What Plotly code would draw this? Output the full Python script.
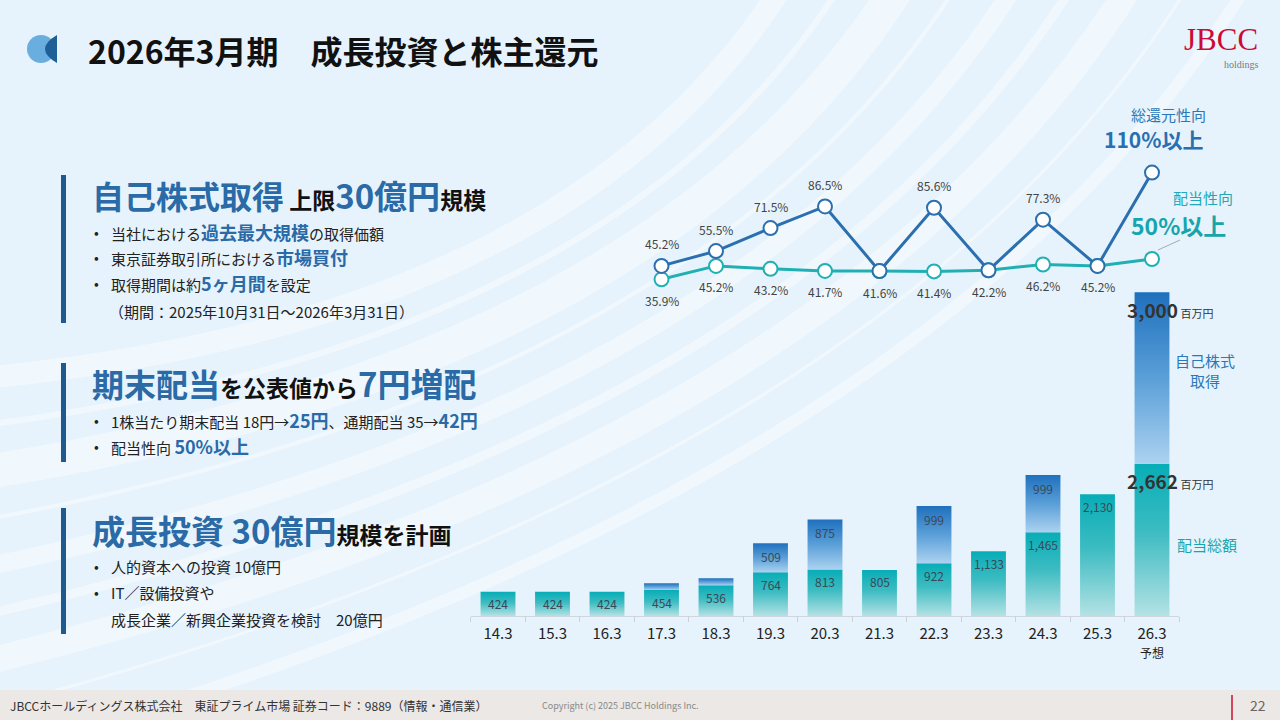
import plotly.graph_objects as go

# Shareholder return data (million yen) by fiscal period
periods = ["14.3", "15.3", "16.3", "17.3", "18.3", "19.3", "20.3",
           "21.3", "22.3", "23.3", "24.3", "25.3", "26.3"]
dividends = [424, 424, 424, 454, 536, 764, 813, 805, 922, 1133, 1465, 2130, 2662]
buybacks = [0, 0, 0, 118, 122, 509, 875, 0, 999, 0, 999, 0, 3000]

# Ratios (%) start from 17.3
ratio_start = 3
total_ratio = [45.2, 55.5, 71.5, 86.5, 41.6, 85.6, 42.2, 77.3, 45.2, 110]
payout_ratio = [35.9, 45.2, 43.2, 41.7, 41.6, 41.4, 42.2, 46.2, 45.2, 50]

W, H = 1280, 720
FONT = "Noto Sans CJK JP"
BLUE = "#2a6aa6"
LINE_BLUE = "#2b6fae"
LINE_TEAL = "#20b0b4"


def fx(x):
    return x / W


def fy(y):
    return 1 - y / H


fig = go.Figure()

# stacked bars, drawn as gradient filled rectangles on the data axes
half = 0.32
for i, (d, b) in enumerate(zip(dividends, buybacks)):
    fig.add_trace(go.Scatter(
        x=[i - half, i + half, i + half, i - half, i - half],
        y=[0, 0, d, d, 0], fill="toself", mode="lines", line=dict(width=0),
        fillgradient=dict(type="vertical",
                          colorscale=[[0, "#b4e2e4"], [0.55, "#3dbcc2"], [1, "#07adb7"]]),
        hoverinfo="skip", showlegend=False))
    if b > 0:
        fig.add_trace(go.Scatter(
            x=[i - half, i + half, i + half, i - half, i - half],
            y=[d, d, d + b, d + b, d], fill="toself", mode="lines", line=dict(width=0),
            fillgradient=dict(type="vertical",
                              colorscale=[[0, "#acd2f0"], [0.5, "#5a9fd8"], [1, "#1f70bd"]]),
            hoverinfo="skip", showlegend=False))

annotations = []

# bar value labels
for i, (d, b) in enumerate(zip(dividends, buybacks)):
    if i == len(periods) - 1:
        continue
    annotations.append(dict(x=i, y=d, xref="x", yref="y", text=f"{d:,}", showarrow=False,
                            yanchor="middle", yshift=-12,
                            font=dict(family=FONT, size=12, color="#3b4856")))
    if b >= 300:
        annotations.append(dict(x=i, y=d + b, xref="x", yref="y", text=f"{b:,}", showarrow=False,
                                yanchor="middle", yshift=-13,
                                font=dict(family=FONT, size=12, color="#3b4856")))

last = len(periods) - 1
for val, top in [(buybacks[last], dividends[last] + buybacks[last]),
                 (dividends[last], dividends[last])]:
    annotations.append(dict(x=last, y=top, xref="x", yref="y",
                            text=f"<b>{val:,}</b><span style='font-size:11px'> 百万円</span>",
                            showarrow=False, xanchor="left", xshift=-27, yanchor="middle", yshift=-17,
                            font=dict(family=FONT, size=19, color="#333")))

# ratio lines
rx = list(range(ratio_start, len(periods)))
fig.add_trace(go.Scatter(x=rx, y=payout_ratio, yaxis="y2", mode="lines+markers",
                         line=dict(color=LINE_TEAL, width=3),
                         marker=dict(size=14, color="white", line=dict(color=LINE_TEAL, width=2)),
                         hoverinfo="skip", showlegend=False))
fig.add_trace(go.Scatter(x=rx, y=total_ratio, yaxis="y2", mode="lines+markers",
                         line=dict(color=LINE_BLUE, width=3),
                         marker=dict(size=14, color="white", line=dict(color=LINE_BLUE, width=2)),
                         hoverinfo="skip", showlegend=False))

for k, (t, p) in enumerate(zip(total_ratio, payout_ratio)):
    if k == len(total_ratio) - 1:
        continue
    annotations.append(dict(x=rx[k], y=p, xref="x", yref="y2", text=f"{p}%", showarrow=False,
                            yshift=-21, font=dict(family=FONT, size=12, color="#444")))
    if t != p:
        annotations.append(dict(x=rx[k], y=t, xref="x", yref="y2", text=f"{t}%", showarrow=False,
                                yshift=22, font=dict(family=FONT, size=12, color="#444")))


def txt(x, y, text, size, color="#222", anchor="left", family=FONT):
    annotations.append(dict(x=fx(x), y=fy(y), xref="paper", yref="paper", text=text,
                            showarrow=False, xanchor=anchor, yanchor="middle",
                            font=dict(family=family, size=size, color=color)))


# chart side labels
txt(1168, 115, "総還元性向", 15, "#2b78b9", "center")
txt(1153, 139, "<b>110%以上</b>", 21, "#2a6fb0", "center")
txt(1203, 197, "配当性向", 15, "#22a7b5", "center")
txt(1178, 225, "<b>50%以上</b>", 23, "#17a5ac", "center")
txt(1205, 371, "自己株式<br>取得", 15, "#2a78b8", "center")
txt(1207, 544, "配当総額", 15, "#17a6ad", "center")
txt(1152, 652, "予想", 12, "#222", "center")

# title and logo
txt(86, 50, "<b>2026年3月期　成長投資と株主還元</b>", 32, "#111")
txt(1221, 39, "JBCC", 31, "#cc0a36", "center", "Liberation Serif")
txt(1241, 64, "holdings", 10, "#7a7a7a", "center", "Liberation Serif")


def em(s, size=18):
    return f"<b><span style='color:{BLUE};font-size:{size}px'>{s}</span></b>"


# left text blocks
txt(90, 195, em("自己株式取得", 32) + " <b>上限</b>" + em("30億円", 33) + "<b>規模</b>", 23, "#111")
txt(90, 383, em("期末配当", 32) + "<b>を公表値から</b>" + em("7円増配", 33), 23, "#111")
txt(90, 530, em("成長投資 30億円", 33) + "<b>規模を計画</b>", 23, "#111")

bullets = [
    (232, "当社における" + em("過去最大規模") + "の取得価額"),
    (257, "東京証券取引所における" + em("市場買付")),
    (283, "取得期間は約" + em("5ヶ月間") + "を設定"),
    (420, "1株当たり期末配当 18円→" + em("25円") + "、通期配当 35→" + em("42円")),
    (446, "配当性向 " + em("50%以上")),
    (566, "人的資本への投資 10億円"),
    (592, "IT／設備投資や"),
]
for y, s in bullets:
    txt(92, y, "•", 14, "#222")
    txt(109, y, s, 15, "#222")
txt(107, 311, "（期間：2025年10月31日～2026年3月31日）", 15, "#222")
txt(109, 619, "成長企業／新興企業投資を検討　20億円", 15, "#222")

# footer
txt(8, 705, "JBCCホールディングス株式会社　東証プライム市場 証券コード：9889（情報・通信業）", 12, "#333")
txt(540, 705, "Copyright (c) 2025 JBCC Holdings Inc.", 9, "#888")
txt(1248, 705, "22", 14, "#666")

shapes = []

# background sweep stripes
stripe_w = [22, 6, 34, 4, 18, 9, 26, 3, 12]
for k, w in enumerate(stripe_w):
    x0, y0 = -40, 380 + 48 * k
    cx, cy = 560 + 45 * k, 330 + 22 * k
    x1, y1 = 780 + 58 * k, -10
    path = f"M {fx(x0)},{fy(y0)} Q {fx(cx)},{fy(cy)} {fx(x1)},{fy(y1)}"
    shapes.append(dict(type="path", xref="paper", yref="paper", path=path, layer="below",
                       line=dict(color="rgba(255,255,255,0.45)", width=w)))

# footer band and page marker
shapes.append(dict(type="rect", xref="paper", yref="paper", x0=0, x1=1, y0=0, y1=fy(690),
                   fillcolor="#ebe8e6", line=dict(width=0), layer="below"))
shapes.append(dict(type="line", xref="paper", yref="paper", x0=fx(1232), x1=fx(1232),
                   y0=fy(695), y1=fy(720), line=dict(color="#c8102e", width=1.5)))

# title icon
shapes.append(dict(type="circle", xref="paper", yref="paper", x0=fx(27), x1=fx(55),
                   y0=fy(63), y1=fy(35), fillcolor="#6aaee0", line=dict(width=0)))
shapes.append(dict(type="path", xref="paper", yref="paper",
                   path=f"M {fx(57)},{fy(35)} Q {fx(33)},{fy(49)} {fx(57)},{fy(63)} Z",
                   fillcolor="#1d5f96", line=dict(width=0)))

# block side bars
for y0, y1 in [(175, 323), (363, 462), (508, 634)]:
    shapes.append(dict(type="rect", xref="paper", yref="paper", x0=fx(61), x1=fx(66),
                       y0=fy(y1), y1=fy(y0), fillcolor="#1f5a8f", line=dict(width=0)))

# leader line for payout label
shapes.append(dict(type="line", xref="paper", yref="paper", x0=fx(1158), y0=fy(250),
                   x1=fx(1180), y1=fy(240), line=dict(color="#a9a9b4", width=1)))

fig.update_layout(
    width=W, height=H, margin=dict(l=0, r=0, t=0, b=0),
    paper_bgcolor="#e6f3fc", plot_bgcolor="rgba(0,0,0,0)",
    showlegend=False, annotations=annotations, shapes=shapes,
    xaxis=dict(domain=[470.75 / W, 1179.25 / W], range=[-0.5, 12.5],
               tickmode="array", tickvals=list(range(len(periods))), ticktext=periods,
               ticks="", showgrid=False, zeroline=False,
               showline=True, linecolor="#cfd6de", linewidth=1,
               tickfont=dict(family=FONT, size=15, color="#222"), ticklabelstandoff=4,
               minor=dict(tickvals=[i - 0.5 for i in range(len(periods) + 1)], ticks="outside",
                          ticklen=5, tickcolor="#c9d1d9", tickwidth=1, showgrid=False),
               fixedrange=True),
    yaxis=dict(domain=[fy(616), fy(280)], range=[0, 336 / 0.0572], visible=False,
               fixedrange=True),
    yaxis2=dict(domain=[fy(331), fy(140)], range=[0, 191 / 1.44], anchor="x", visible=False,
                fixedrange=True),
)

fig.write_html("out.html", config={"displayModeBar": False},
               post_script="document.body.style.margin='0';")
